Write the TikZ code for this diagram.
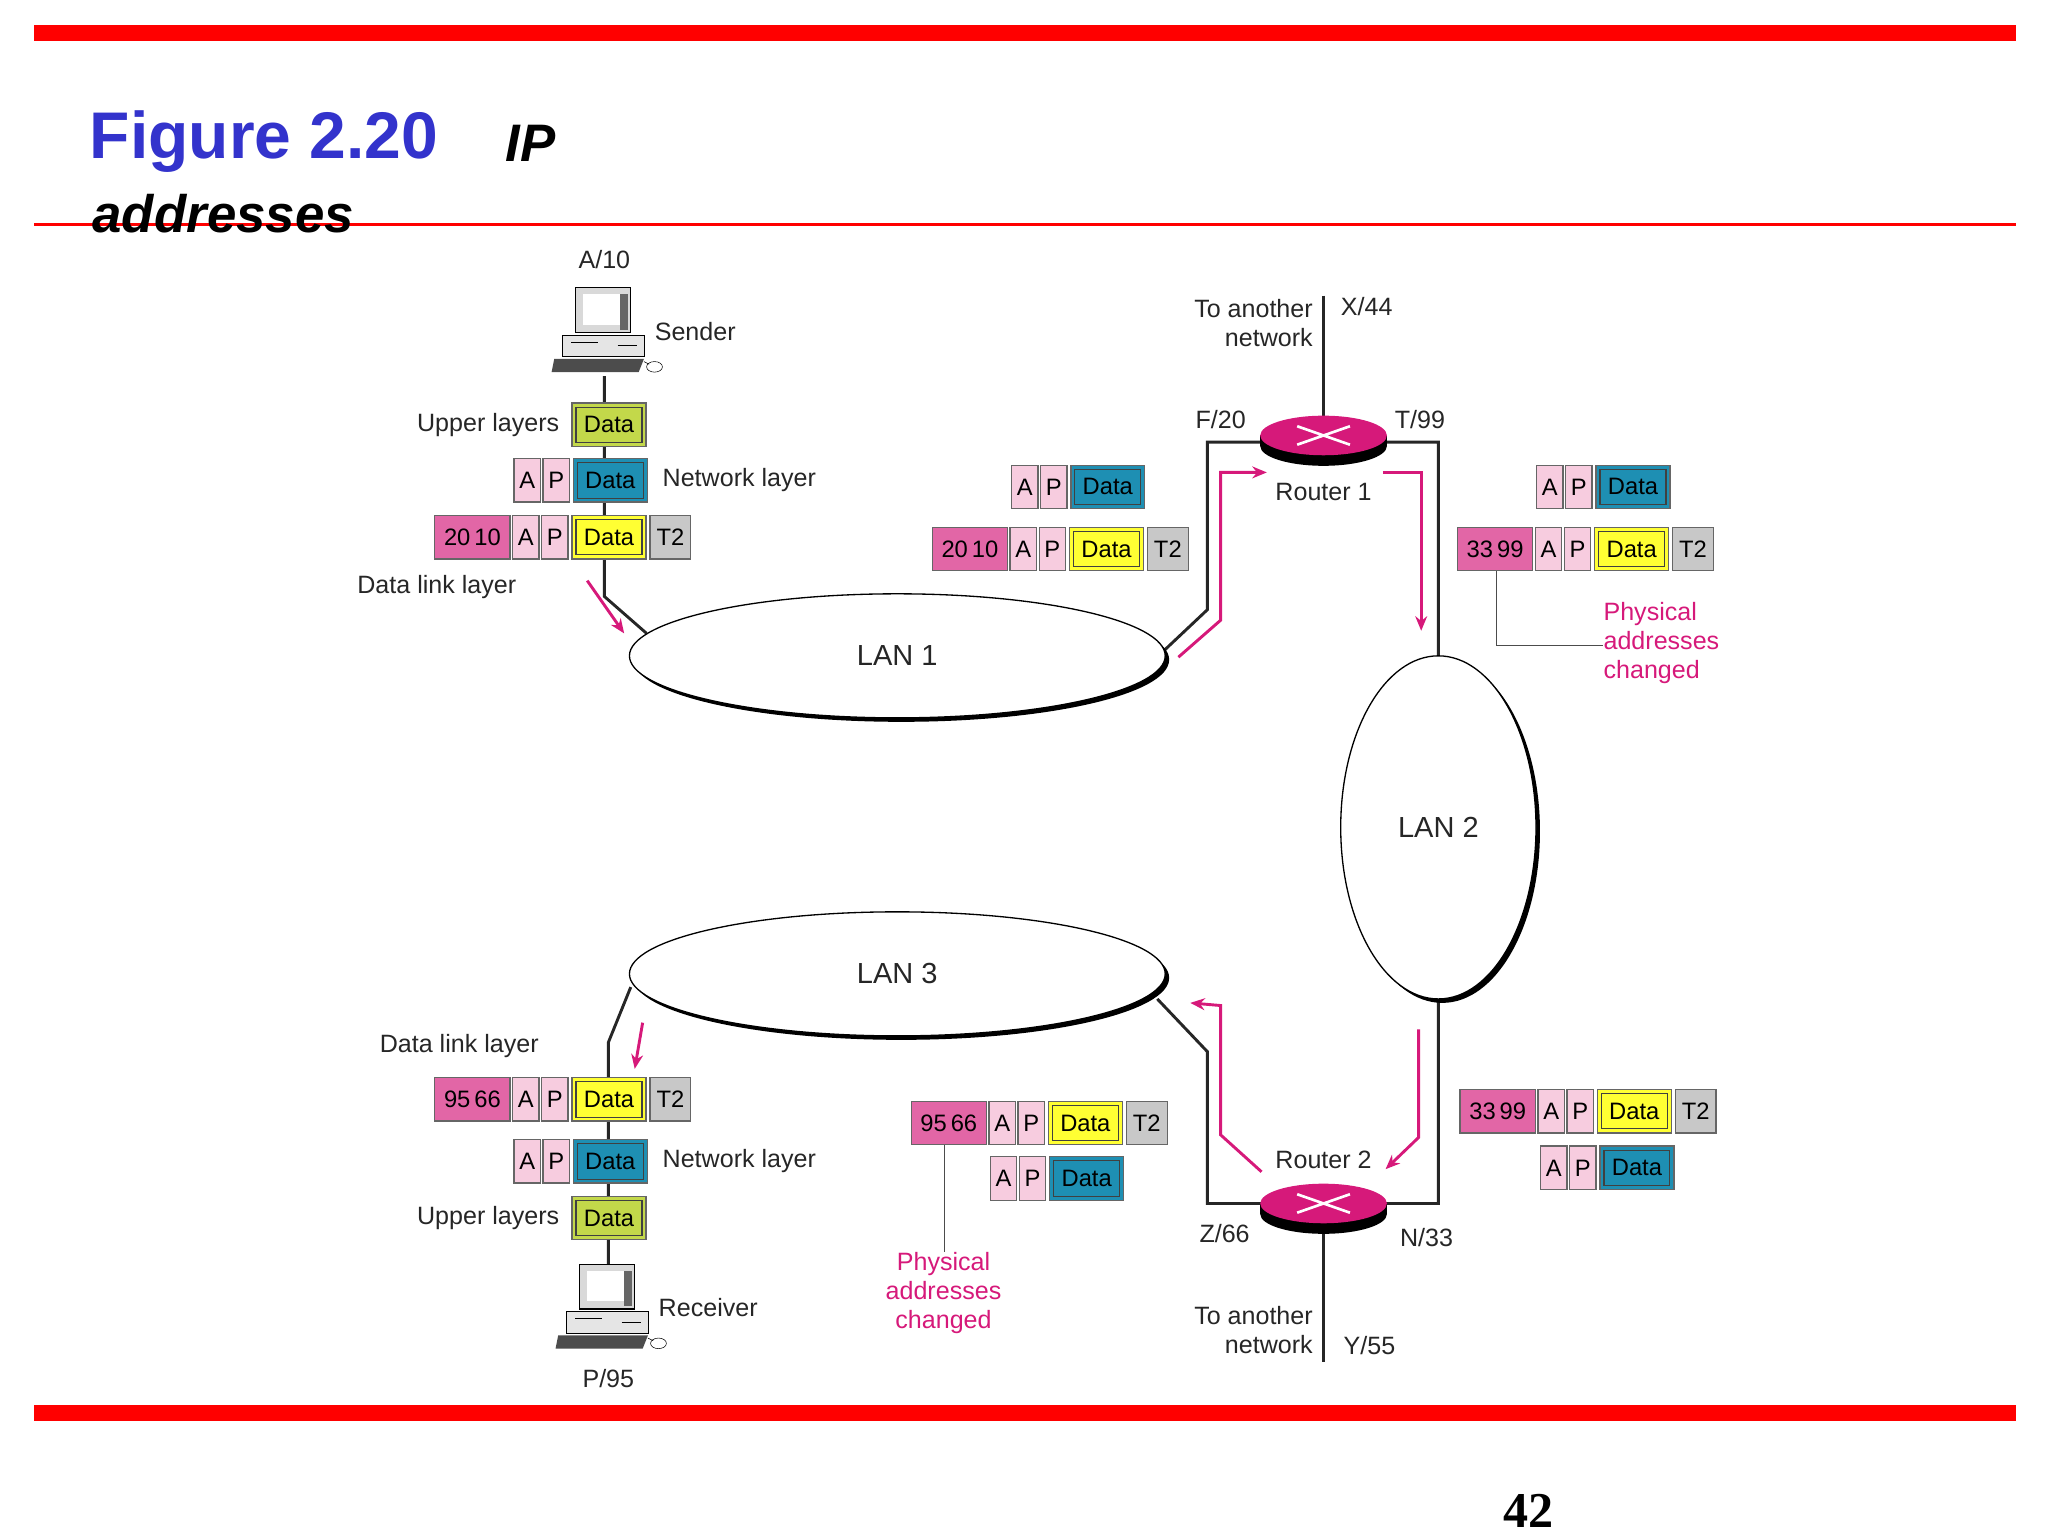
\documentclass[tikz,border=0pt]{standalone}
\usepackage{fontspec}
\setmainfont{Liberation Sans}
\newfontfamily\seriff{Liberation Serif}
\usetikzlibrary{arrows.meta,positioning}
\definecolor{mg}{HTML}{D6197A}
\definecolor{pk}{HTML}{E266A6}
\definecolor{lp}{HTML}{F7CCDF}
\definecolor{db}{HTML}{1E8FB3}
\definecolor{dg}{HTML}{C3D84A}
\definecolor{dy}{HTML}{FFFF33}
\definecolor{gr}{HTML}{C8C8C8}
\definecolor{tb}{HTML}{3333CC}
\begin{document}
\begin{tikzpicture}[x=1pt,y=-1pt,
  lbl/.style={font=\fontsize{19}{22}\selectfont,text=black!85,inner sep=0pt},
  mlbl/.style={lbl,text=mg,align=center},
  bx/.style={draw=black!60,line width=1pt,minimum height=33pt,inner sep=0pt,font=\fontsize{18}{19}\selectfont,anchor=west},
  inner/.style={path picture={\draw[black!75,line width=0.8pt] ([shift={(3pt,3pt)}]path picture bounding box.south west) rectangle ([shift={(-3pt,-3pt)}]path picture bounding box.north east);}},
  num/.style={bx,fill=pk,minimum width=57pt},
  ab/.style={bx,fill=lp,minimum width=20pt},
  dd/.style={bx,inner,minimum width=56pt},
  t2/.style={bx,fill=gr,minimum width=31pt},
  ln/.style={line width=2.2pt,black!85},
  ar/.style={mg,line width=2.2pt,-{Stealth[length=11pt,width=9pt]}},
  lan/.style={draw=black,line width=1pt,fill=white}]
\useasboundingbox (0,0) rectangle (1552,1164);
% bars
\fill[red] (26,19) rectangle (1528,31);
\fill[red] (26,1065) rectangle (1528,1077);
\draw[red,line width=2.5pt] (26,170) -- (1528,170);
\node[anchor=west,text=tb,font=\fontsize{50}{50}\selectfont\bfseries,inner sep=0pt] (t1) at (68,107) {Figure 2.20};
\node[anchor=west,font=\fontsize{40}{40}\selectfont\bfseries\itshape,inner sep=0pt] (t2) at (383,109) {IP};
\node[anchor=west,font=\fontsize{40}{40}\selectfont\bfseries\itshape,inner sep=0pt] (t3) at (70,162) {addresses};
\node[font=\fontsize{38}{38}\selectfont\bfseries\seriff,inner sep=0pt] (pg) at (1158,1145) {42};
% packet macros
\newcommand\fullp[4]{%
  \node[num] (#1n) at (#2,#3) {#4};
  \node[ab,right=1pt of #1n] (#1a) {A};
  \node[ab,right=1pt of #1a] (#1p) {P};
  \node[dd,fill=dy,right=2pt of #1p] (#1d) {Data};
  \node[t2,right=2pt of #1d] (#1t) {T2};}
\newcommand\netp[3]{%
  \node[ab] (#1a) at (#2,#3) {A};
  \node[ab,right=1pt of #1a] (#1p) {P};
  \node[dd,fill=db,right=2pt of #1p] (#1d) {Data};}
% connecting lines
\coordinate (s1) at (458,285); \coordinate (s2) at (458,452); \coordinate (s3) at (490,480);
\coordinate (r1) at (461,960); \coordinate (r2) at (461,790); \coordinate (r3) at (478,748);
\draw[ln] (s1) -- (s2) -- (s3);
\draw[ln] (r1) -- (r2) -- (r3);
\coordinate (a1) at (880,495); \coordinate (a2) at (915,462); \coordinate (a3) at (915,335); \coordinate (a4) at (1090,335); \coordinate (a5) at (1090,500);
\draw[ln] (a1) -- (a2) -- (a3) -- (a4) -- (a5);
\coordinate (b1) at (877,757); \coordinate (b2) at (915,797); \coordinate (b3) at (915,912); \coordinate (b4) at (1090,912); \coordinate (b5) at (1090,755);
\draw[ln] (b1) -- (b2) -- (b3) -- (b4) -- (b5);
\coordinate (x1) at (1003,224); \coordinate (x2) at (1003,325);
\coordinate (y1) at (1003,1032); \coordinate (y2) at (1003,920);
\draw[ln] (x1) -- (x2); \draw[ln] (y1) -- (y2);
% LANs
\foreach \n/\cx/\cy/\rx/\ry in {L1/680/497/203/47, L2/1090/627/74/130, L3/680/738/203/47}{
  \fill[black] (\cx+3,\cy+3) ellipse [x radius=\rx,y radius=\ry];
  \draw[lan] (\cx,\cy) ellipse [x radius=\rx,y radius=\ry];}
\node[lbl,font=\fontsize{22}{22}\selectfont] (L1) at (680,497) {LAN 1};
\node[lbl,font=\fontsize{22}{22}\selectfont] (L2) at (1090,627) {LAN 2};
\node[lbl,font=\fontsize{22}{22}\selectfont] (L3) at (680,738) {LAN 3};
% routers
\foreach \ry/\nm in {330/R1,912/R2}{
  \fill[black] (955,\ry) rectangle (1051,\ry+8);
  \fill[black] (1003,\ry+8) ellipse [x radius=48,y radius=15];
  \fill[mg] (1003,\ry) ellipse [x radius=48,y radius=15];
  \draw[white,line width=2pt] (983,\ry-7) -- (1023,\ry+7) (983,\ry+7) -- (1023,\ry-7);
  \coordinate (\nm) at (1003,\ry);}
% computers
\foreach \cx/\cy/\nm in {458/250/S,461/990/Rc}{
  \coordinate (\nm) at (\cx,\cy);
  \draw[black,line width=1pt,fill=black!15] (\cx-22,\cy-32) rectangle (\cx+20,\cy+2);
  \fill[white] (\cx-16,\cy-27) rectangle (\cx+12,\cy-4);
  \fill[black!60] (\cx+12,\cy-27) rectangle (\cx+18,\cy);
  \draw[black,fill=black!10] (\cx-32,\cy+4) rectangle (\cx+30,\cy+20);
  \draw[black] (\cx-25,\cy+9) -- (\cx-5,\cy+9) (\cx+10,\cy+12) -- (\cx+25,\cy+12);
  \fill[black!70] (\cx-38,\cy+22) -- (\cx+30,\cy+22) -- (\cx+26,\cy+32) -- (\cx-40,\cy+32) -- cycle;
  \draw[black] (\cx+38,\cy+28) ellipse [x radius=6,y radius=4];
  \draw[black] (\cx+30,\cy+24) -- (\cx+34,\cy+26);}
% left packets
\node[dd,fill=dg] (u1) at (433,322) {Data};
\netp{n1}{389}{364}
\fullp{f1}{329}{407}{20\,10}
\fullp{f4}{329}{833}{95\,66}
\netp{n4}{389}{880}
\node[dd,fill=dg] (u4) at (433,923) {Data};
% middle and right
\netp{n2}{766}{369}
\fullp{f2}{706}{416}{20\,10}
\netp{n3}{1164}{369}
\fullp{f3}{1104}{416}{33\,99}
\fullp{f5}{1106}{842}{33\,99}
\netp{n5}{1167}{885}
\fullp{f6}{690}{851}{95\,66}
\netp{n6}{750}{893}
% labels
\node[lbl] (A10) at (458,197) {A/10};
\node[lbl,anchor=west] (snd) at (496,251) {Sender};
\node[lbl,anchor=east] (ul1) at (424,322) {Upper layers};
\node[lbl,anchor=west] (nl1) at (502,364) {Network layer};
\node[lbl] (dl1) at (331,445) {Data link layer};
\node[lbl,anchor=east,align=right] (ta1) at (995,245) {To another\\network};
\node[lbl,anchor=west] (X44) at (1016,232) {X/44};
\node[lbl] (F20) at (925,318) {F/20};
\node[lbl] (T99) at (1076,318) {T/99};
\node[lbl] (rt1) at (1003,373) {Router 1};
\node[lbl] (rt2) at (1003,879) {Router 2};
\node[lbl] (Z66) at (928,935) {Z/66};
\node[lbl] (N33) at (1081,938) {N/33};
\node[lbl,anchor=east,align=right] (ta2) at (995,1008) {To another\\network};
\node[lbl,anchor=west] (Y55) at (1018,1020) {Y/55};
\node[lbl] (dl4) at (348,793) {Data link layer};
\node[lbl,anchor=west] (nl4) at (502,880) {Network layer};
\node[lbl,anchor=east] (ul4) at (424,923) {Upper layers};
\node[lbl,anchor=west] (rcv) at (499,991) {Receiver};
\node[lbl] (P95) at (461,1045) {P/95};
\node[mlbl,anchor=west,align=left] (pc1) at (1215,487) {Physical\\addresses\\changed};
\node[mlbl] (pc2) at (715,980) {Physical\\addresses\\changed};
\draw[black!70,line width=0.8pt] (f3n.south west) ++(30,0) coordinate (c1) -- ++(0,56) coordinate (c2) -- (pc1.west |- c2);
\draw[black!70,line width=0.8pt] (f6n.south west) ++(26,0) -- (pc2.north -| 716,0);
% magenta arrows
\draw[ar] (445,440) -- (473,480);
\draw[ar] (893,498) -- (925,470) -- (925,358) -- (960,358);
\draw[ar] (1048,358) -- (1077,358) -- (1077,478);
\draw[ar] (1075,780) -- (1075,862) -- (1050,886);
\draw[ar] (956,888) -- (925,860) -- (925,762) -- (902,760);
\draw[ar] (487,775) -- (481,810);
\end{tikzpicture}
\end{document}
